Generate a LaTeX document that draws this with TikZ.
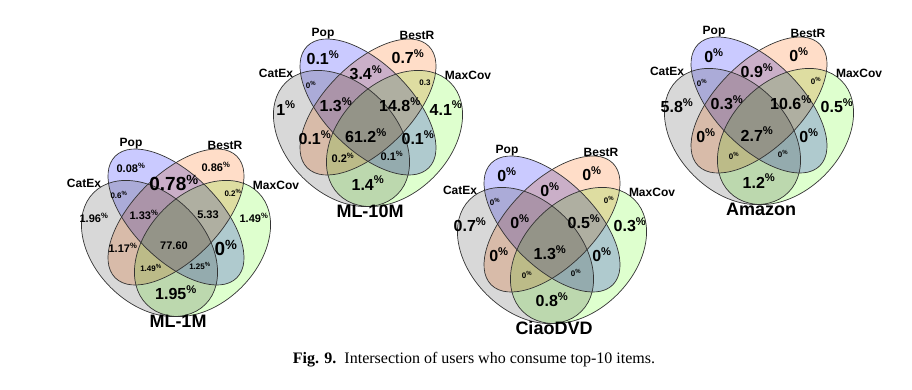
\documentclass[tikz,border=0pt]{standalone}
\usepackage{fontspec}
\setmainfont{Liberation Serif}
\setsansfont{Liberation Sans}
\definecolor{catexgray}{RGB}{216,216,216}
\definecolor{popblue}{RGB}{202,202,255}
\definecolor{bestrpeach}{RGB}{255,221,200}
\definecolor{maxcovgreen}{RGB}{222,255,206}
\newcommand{\pct}{\textsuperscript{\%}}

\begin{document}
\begin{tikzpicture}[
		x=1pt, y=1pt,
		rim/.style={draw=black!80, line width=0.7pt},
		setname/.style={font=\sffamily\bfseries\fontsize{12}{12}\selectfont},
		dataname/.style={font=\sffamily\bfseries\fontsize{18}{18}\selectfont},
		numXL/.style={font=\sffamily\bfseries\fontsize{19}{19}\selectfont, inner sep=0pt},
		numL/.style={font=\sffamily\bfseries\fontsize{16}{16}\selectfont, inner sep=0pt},
		numM/.style={font=\sffamily\bfseries\fontsize{11}{11}\selectfont, inner sep=0pt},
		numS/.style={font=\sffamily\bfseries\fontsize{8}{8}\selectfont, inner sep=0pt},
		venn/.pic={
			\begin{scope}[blend group=multiply]
				\foreach \cx/\cy/\ang/\rx/\ry/\col in {-26.5/-28.5/-45/79/55/catexgray, 26.5/-28.5/45/79/55/maxcovgreen, 0/3/-45/86/43/popblue, 0/3/45/86/43/bestrpeach}
					\fill[\col, shift={(\cx,\cy)}, rotate=\ang] (0,0) ellipse [x radius=\rx, y radius=\ry];
			\end{scope}
			\foreach \cx/\cy/\ang/\rx/\ry in {-26.5/-28.5/-45/79/55, 26.5/-28.5/45/79/55, 0/3/-45/86/43, 0/3/45/86/43}
				\draw[rim, shift={(\cx,\cy)}, rotate=\ang] (0,0) ellipse [x radius=\rx, y radius=\ry];
			% region centres: P, B, PB, CP, BM, C, M, CPB, PBM, all, CB, PM, CBM, CPM, CM
			\foreach \x/\y [count=\k] in {-45/52, 40/53, -2/37, -57/25, 57/27, -82/2, 78/2, -32/5, 32/5, -2/-26, -53/-28, 50/-28, -25/-48, 24/-46, 0/-73}
				\coordinate (-\k) at (\x,\y);
			\node[setname] (-pop) at (-45,76) {Pop};
			\node[setname] (-bestr) at (49,75) {BestR};
			\node[setname] (-catex) at (-92,37) {CatEx};
			\node[setname] (-maxcov) at (100,35) {MaxCov};
			\coordinate (-title) at (2,-101);
		}
	]
	\useasboundingbox (0,0) rectangle (912,389);

	% ML-1M
	\pic (ml1m) at (176,169) {venn};
	\node[dataname] (ml1mtitle) at (ml1m-title) {ML-1M};
	\foreach \k/\t/\s in {1/0.08\pct/numM, 2/0.86\pct/numM, 3/0.78\pct/numXL, 4/0.6\pct/numS, 5/0.2\pct/numS, 6/1.96\pct/numM, 7/1.49\pct/numM, 8/1.33\pct/numM, 9/5.33/numM, 10/77.60/numM, 11/1.17\pct/numM, 12/0\pct/numXL, 13/1.49\pct/numS, 14/1.25\pct/numS, 15/1.95\pct/numL}
		\node[\s] (ml1m\k) at (ml1m-\k) {\t};

	% ML-10M
	\pic (ml10m) at (368,279) {venn};
	\node[dataname] (ml10mtitle) at (ml10m-title) {ML-10M};
	\foreach \k/\t/\s in {1/0.1\pct/numL, 2/0.7\pct/numL, 3/3.4\pct/numL, 4/0\pct/numS, 5/0.3/numS, 6/1\pct/numL, 7/4.1\pct/numL, 8/1.3\pct/numL, 9/14.8\pct/numL, 10/61.2\pct/numL, 11/0.1\pct/numL, 12/0.1\pct/numL, 13/0.2\pct/numM, 14/0.1\pct/numM, 15/1.4\pct/numL}
		\node[\s] (ml10m\k) at (ml10m-\k) {\t};

	% CiaoDVD
	\pic (ciao) at (552,162) {venn};
	\node[dataname] (ciaotitle) at (ciao-title) {CiaoDVD};
	\foreach \k/\t/\s in {1/0\pct/numL, 2/0\pct/numL, 3/0\pct/numL, 4/0\pct/numS, 5/0\pct/numS, 6/0.7\pct/numL, 7/0.3\pct/numL, 8/0\pct/numL, 9/0.5\pct/numL, 10/1.3\pct/numL, 11/0\pct/numL, 12/0\pct/numL, 13/0\pct/numS, 14/0\pct/numS, 15/0.8\pct/numL}
		\node[\s] (ciao\k) at (ciao-\k) {\t};

	% Amazon
	\pic (amazon) at (759,281) {venn};
	\node[dataname] (amazontitle) at (amazon-title) {Amazon};
	\foreach \k/\t/\s in {1/0\pct/numL, 2/0\pct/numL, 3/0.9\pct/numL, 4/0\pct/numS, 5/0\pct/numS, 6/5.8\pct/numL, 7/0.5\pct/numL, 8/0.3\pct/numL, 9/10.6\pct/numL, 10/2.7\pct/numL, 11/0\pct/numL, 12/0\pct/numL, 13/0\pct/numS, 14/0\pct/numS, 15/1.2\pct/numL}
		\node[\s] (amazon\k) at (amazon-\k) {\t};

	\node[font=\fontsize{16}{16}\selectfont] (caption) at (474,29) {\textbf{Fig. 9.}\enspace Intersection of users who consume top-10 items.};
\end{tikzpicture}
\end{document}
